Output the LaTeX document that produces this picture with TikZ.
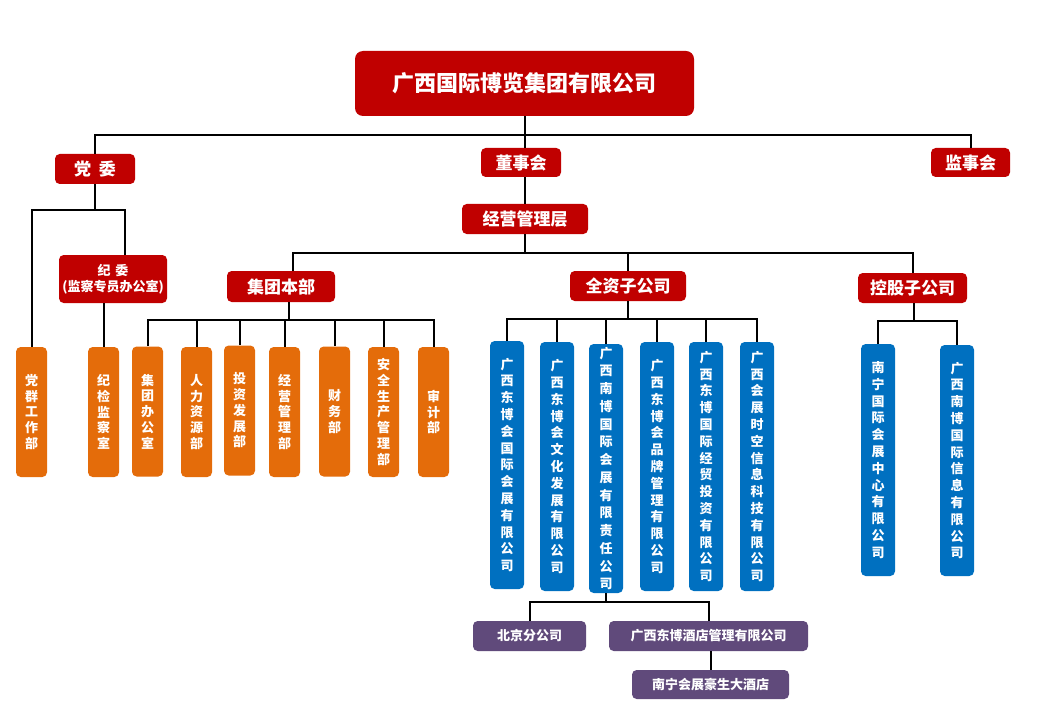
\documentclass[tikz,border=0pt]{standalone}
\usepackage{fontspec}
\setmainfont{Noto Sans CJK SC}
\definecolor{cred}{RGB}{192,0,0}
\definecolor{corange}{RGB}{228,108,10}
\definecolor{cblue}{RGB}{0,112,192}
\definecolor{cpurple}{RGB}{96,74,123}
\tikzset{
  box/.style={rounded corners=3.5pt, inner sep=0pt, text=white, align=center},
  sz/.style 2 args={minimum width=#1*0.75pt, minimum height=#2*0.75pt},
  redbox/.style={box, fill=cred, font=\fontsize{12.75}{15}\selectfont\bfseries},
  orbox/.style={box, fill=corange, sz={31}{130}, font=\fontsize{9.75}{11.8}\selectfont\bfseries},
  bluebox/.style={box, fill=cblue, font=\fontsize{9.75}{12.6}\selectfont\bfseries},
  purbox/.style={box, fill=cpurple, font=\fontsize{9.75}{12}\selectfont\bfseries},
  conn/.style={draw=black, line width=1.5pt}
}
\begin{document}
\begin{tikzpicture}[x=0.75pt, y=-0.75pt]
\useasboundingbox (0,0) rectangle (1044,727);
% top level
\node[box, fill=cred, rounded corners=6pt, sz={339}{65}, font=\fontsize{16.5}{19}\selectfont\bfseries] (top) at (524.5,83.5) {广西国际博览集团有限公司};
\node[redbox, sz={80}{30}] (dw) at (95,169) {党\hspace{6pt}委};
\node[redbox, sz={80}{29}] (dsh) at (521,162.5) {董事会};
\node[redbox, sz={79}{29}] (jsh) at (970.5,162.5) {监事会};
\node[redbox, sz={126}{30}] (jy) at (525,219) {经营管理层};
\node[redbox, sz={108}{31}] (jtbb) at (281,286.5) {集团本部};
\node[redbox, sz={116}{30}] (qz) at (628,286) {全资子公司};
\node[redbox, sz={109}{30}] (kg) at (912.5,288) {控股子公司};
\node[redbox, sz={108}{48}, font=\fontsize{9.75}{12}\selectfont\bfseries] (jw) at (113,279) {纪\hspace{3.5pt}委\\(监察专员办公室)};
% orange departments
\node[orbox] (o1) at (31.5,412) {党\\群\\工\\作\\部};
\node[orbox] (o2) at (103.5,412) {纪\\检\\监\\察\\室};
\node[orbox] (o3) at (147.5,411.5) {集\\团\\办\\公\\室};
\node[orbox] (o4) at (196.5,412) {人\\力\\资\\源\\部};
\node[orbox] (o5) at (239.5,410.5) {投\\资\\发\\展\\部};
\node[orbox] (o6) at (284.5,412) {经\\营\\管\\理\\部};
\node[orbox] (o7) at (334.5,411.5) {财\\务\\部};
\node[orbox] (o8) at (383.5,412) {安\\全\\生\\产\\管\\理\\部};
\node[orbox] (o9) at (433.5,412) {审\\计\\部};
% wholly owned subsidiaries
\node[bluebox, sz={34}{248}] (q1) at (507,465) {广\\西\\东\\博\\会\\国\\际\\会\\展\\有\\限\\公\\司};
\node[bluebox, sz={34}{249}] (q2) at (557,466.5) {广\\西\\东\\博\\会\\文\\化\\发\\展\\有\\限\\公\\司};
\node[bluebox, sz={34}{249}, font=\fontsize{9.75}{13.3}\selectfont\bfseries] (q3) at (606,468.5) {广\\西\\南\\博\\国\\际\\会\\展\\有\\限\\责\\任\\公\\司};
\node[bluebox, sz={34}{249}] (q4) at (657,466.5) {广\\西\\东\\博\\会\\品\\牌\\管\\理\\有\\限\\公\\司};
\node[bluebox, sz={34}{249}] (q5) at (706,466.5) {广\\西\\东\\博\\国\\际\\经\\贸\\投\\资\\有\\限\\公\\司};
\node[bluebox, sz={34}{249}] (q6) at (757,466.5) {广\\西\\会\\展\\时\\空\\信\\息\\科\\技\\有\\限\\公\\司};
% holding subsidiaries
\node[bluebox, sz={34}{232}] (k1) at (878,460) {南\\宁\\国\\际\\会\\展\\中\\心\\有\\限\\公\\司};
\node[bluebox, sz={34}{231}] (k2) at (957,460.5) {广\\西\\南\\博\\国\\际\\信\\息\\有\\限\\公\\司};
% purple
\node[purbox, sz={113}{30}] (p1) at (529.5,636) {北京分公司};
\node[purbox, sz={199}{30}] (p2) at (708.5,636) {广西东博酒店管理有限公司};
\node[purbox, sz={157}{29}] (p3) at (710.5,684.5) {南宁会展豪生大酒店};
% junction coordinates
\coordinate (b1) at (524.5,135);
\coordinate (b2) at (525,253);
\coordinate (b3) at (289,320);
\coordinate (b4) at (95,210);
\coordinate (b5) at (628,319);
\coordinate (b6) at (914,321);
\coordinate (b7) at (606,602);
\coordinate (jwin) at (125,255);
\coordinate (jtin) at (293,271);
\coordinate (jtout) at (289,302);
% connectors
\draw[conn] (top.south) -- (top.south |- dsh.north);
\draw[conn] (dw.north) |- (b1) -| (jsh.north);
\draw[conn] (dsh.south -| top.south) -- (jy.north -| top.south);
\draw[conn] (jy.south) -- (b2);
\draw[conn] (jtin) |- (b2) -| (kg.north);
\draw[conn] (qz.north) -- (qz.north |- b2);
\draw[conn] (jtout) -- (b3);
\draw[conn] (o3.north) |- (b3) -| (o9.north);
\draw[conn] (o4.north) -- (o4.north |- b3);
\draw[conn] (o5.north) -- (o5.north |- b3);
\draw[conn] (o6.north) -- (o6.north |- b3);
\draw[conn] (o7.north) -- (o7.north |- b3);
\draw[conn] (o8.north) -- (o8.north |- b3);
\draw[conn] (dw.south) -- (b4);
\draw[conn] (o1.north) |- (b4) -| (jwin);
\draw[conn] (jw.south -| o2.north) -- (o2.north);
\draw[conn] (qz.south) -- (b5);
\draw[conn] (q1.north) |- (b5) -| (q6.north);
\draw[conn] (q2.north) -- (q2.north |- b5);
\draw[conn] (q3.north) -- (q3.north |- b5);
\draw[conn] (q4.north) -- (q4.north |- b5);
\draw[conn] (q5.north) -- (q5.north |- b5);
\draw[conn] (kg.south -| b6) -- (b6);
\draw[conn] (k1.north) |- (b6) -| (k2.north);
\draw[conn] (q3.south) -- (b7);
\draw[conn] (p1.north) |- (b7) -| (p2.north);
\draw[conn] (p2.south -| p3.north) -- (p3.north);
\end{tikzpicture}
\end{document}
